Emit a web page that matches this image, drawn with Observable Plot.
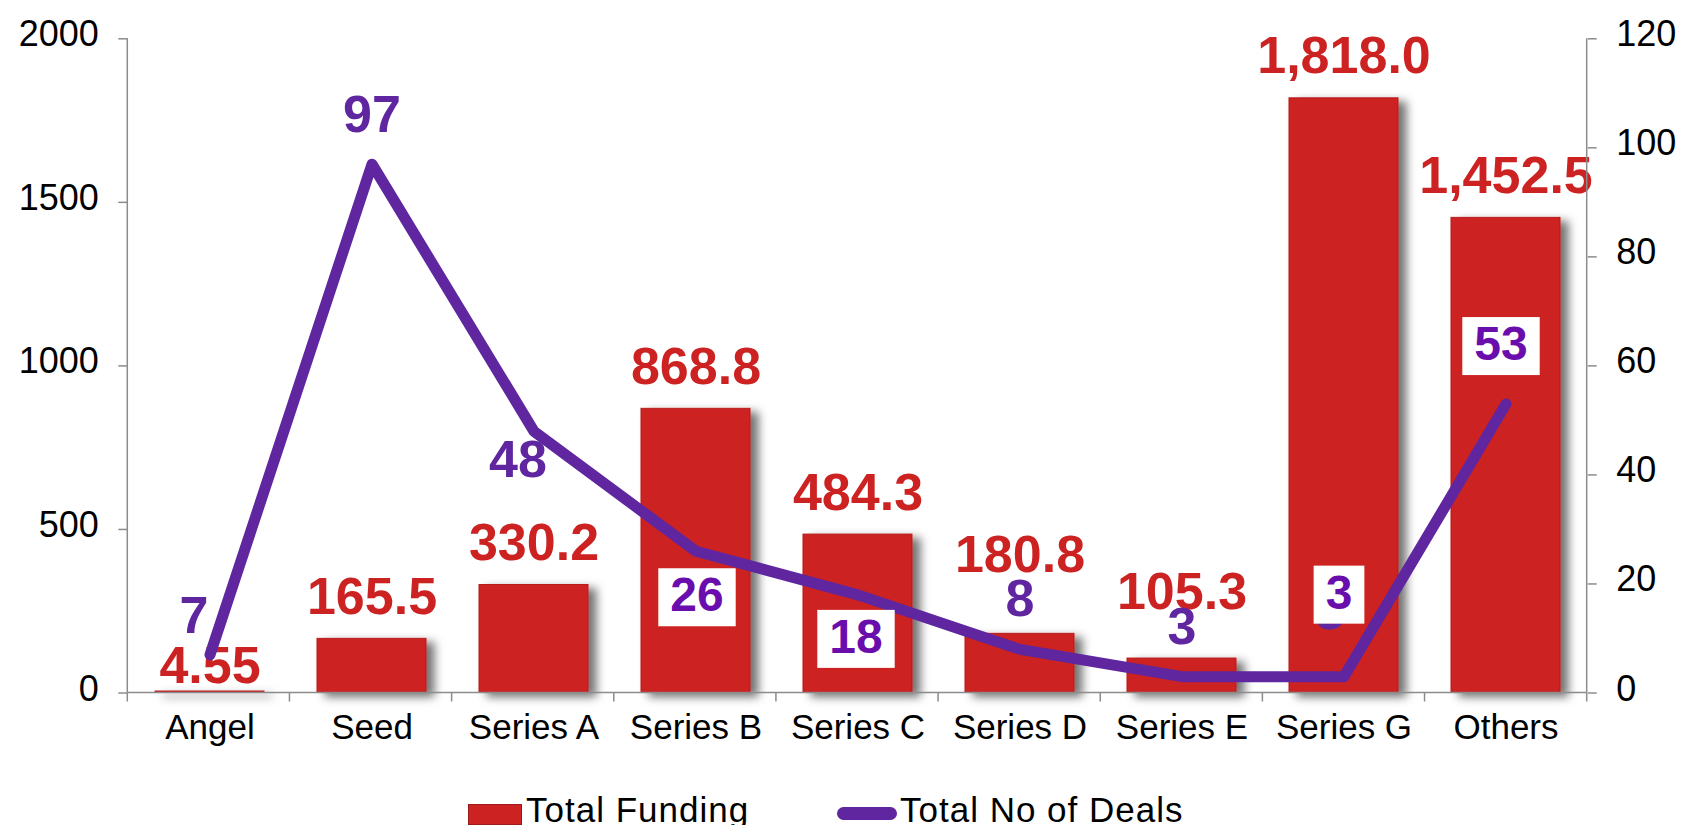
<!DOCTYPE html>
<html>
<head>
<meta charset="utf-8">
<script src="https://cdn.jsdelivr.net/npm/d3@7"></script>
<script src="https://cdn.jsdelivr.net/npm/@observablehq/plot@0.6"></script>
<style>
  html, body { margin: 0; padding: 0; background: #fff; }
  #chart { width: 1682px; }
  #legend { position: relative; width: 1682px; height: 33px; overflow: hidden;
    font-family: "Liberation Sans", Arial, sans-serif; font-size: 35px; line-height: 35px;
    letter-spacing: 1px; color: #000; }
  #legend .item { position: absolute; top: 0; white-space: nowrap; }
  #legend .patch { position: absolute; box-sizing: border-box; }
</style>
</head>
<body>
<div id="chart"></div>
<div id="legend">
  <div class="patch" id="lgBar"></div>
  <div class="item" id="lgBarText"></div>
  <div class="patch" id="lgLine"></div>
  <div class="item" id="lgLineText"></div>
</div>
<script>
// ---------------- data ----------------
const stages = ["Angel", "Seed", "Series A", "Series B", "Series C", "Series D", "Series E", "Series G", "Others"];
const totalFunding = [4.55, 165.5, 330.2, 868.8, 484.3, 180.8, 105.3, 1818.0, 1452.5];
const fundingLabels = ["4.55", "165.5", "330.2", "868.8", "484.3", "180.8", "105.3", "1,818.0", "1,452.5"];
const totalDeals = [7, 97, 48, 26, 18, 8, 3, 3, 53];
const leftTicks = [0, 500, 1000, 1500, 2000];
const rightTicks = [0, 20, 40, 60, 80, 100, 120];
const seriesNames = ["Total Funding", "Total No of Deals"];

// ---------------- styles / layout ----------------
const RED = "#cd2222";
const PURPLE = "#5f26a0";
const BOX_PURPLE = "#6a0dad";
const FONT = "'Liberation Sans', Arial, Helvetica, sans-serif";
const W = 1682, H = 792;
const fundDy = { "Angel": -9, "Series D": -62, "Series E": -50 }; // default -25
const dealLayout = {
  "Angel":    { dx: -16, dy: -22 },
  "Seed":     { dx: 0,   dy: -32 },
  "Series A": { dx: -16, dy: 46 },
  "Series B": { dx: 1,   dy: 60,  box: true },
  "Series C": { dx: -2,  dy: 58,  box: true },
  "Series D": { dx: 0,   dy: -33 },
  "Series E": { dx: 0,   dy: -33 },
  "Series G": { dx: -5,  dy: -68, box: true },
  "Others":   { dx: -5,  dy: -44, box: true }
};

const data = stages.map((s, i) => ({ stage: s, funding: totalFunding[i], label: fundingLabels[i], deals: totalDeals[i] }));
const k = 2000 / 120; // right axis (deals) mapped onto left axis (funding)
const toLeft = v => v * k;

const fundingText = data.map(d => Plot.text([d], {
  x: "stage", y: "funding", text: "label",
  dy: fundDy[d.stage] ?? -25, lineAnchor: "bottom",
  fill: RED, fontSize: 52, fontWeight: "bold"
}));

const ghost = data.filter(d => d.stage === "Series G").map(d => Plot.text([d], {
  x: "stage", y: dd => toLeft(dd.deals), text: dd => String(dd.deals),
  dx: -14, dy: -48, lineAnchor: "bottom", fill: PURPLE, fontSize: 52, fontWeight: "bold"
}));

const dealText = data.map(d => {
  const L = dealLayout[d.stage];
  return Plot.text([d], {
    x: "stage", y: dd => toLeft(dd.deals), text: dd => String(dd.deals),
    dx: L.dx, dy: L.dy, lineAnchor: "bottom",
    fill: L.box ? BOX_PURPLE : PURPLE, fontSize: L.box ? 48 : 52, fontWeight: "bold",
    ariaDescription: L.box ? "boxed-label" : "deal-label"
  });
});

const plot = Plot.plot({
  width: W, height: H,
  marginLeft: 127.3, marginRight: 95.3, marginTop: 38.3, marginBottom: H - 692.5,
  style: { fontFamily: FONT, background: "#fff", overflow: "visible" },
  x: { type: "band", domain: stages, paddingInner: 0.33, paddingOuter: 0.165, label: null },
  y: { domain: [0, 2000], label: null },
  marks: [
    Plot.barY(data, { x: "stage", y: "funding", fill: RED, stroke: "#b71d1d", strokeWidth: 1, ariaDescription: "funding-bars" }),
    ...fundingText,
    Plot.line(data, { x: "stage", y: d => toLeft(d.deals), stroke: PURPLE, strokeWidth: 11, strokeLinecap: "round", strokeLinejoin: "round" }),
    ...ghost,
    ...dealText,
    // left axis
    Plot.axisY({ anchor: "left", ticks: leftTicks, tickSize: 9, tickFormat: () => "", stroke: "#8c8c8c", strokeWidth: 1.5, label: null }),
    Plot.axisY({ anchor: "left", ticks: leftTicks, tickSize: 0, tickPadding: 29, dy: -4, tickFormat: d => String(d), fontSize: 36, fill: "#000", label: null }),
    // right axis
    Plot.axisY({ anchor: "right", ticks: rightTicks.map(toLeft), tickSize: 9, tickFormat: () => "", stroke: "#8c8c8c", strokeWidth: 1.5, label: null }),
    Plot.axisY({ anchor: "right", ticks: rightTicks.map(toLeft), tickSize: 0, tickPadding: 29, dy: -4, tickFormat: d => String(Math.round(d / k)), fontSize: 36, fill: "#000", label: null }),
    // x axis labels
    Plot.axisX({ anchor: "bottom", tickSize: 0, tickPadding: 21.6, fontSize: 35, fill: "#000", label: null })
  ]
});

document.getElementById("chart").appendChild(plot);

// ---- post-processing: shadow, axis lines, category boundary ticks, label boxes ----
const svg = d3.select(plot);
const defs = svg.insert("defs", ":first-child");
const f = defs.append("filter").attr("id", "barShadow")
  .attr("x", "-20%").attr("y", "-10%").attr("width", "160%").attr("height", "130%");
f.append("feDropShadow").attr("dx", 8).attr("dy", 4).attr("stdDeviation", 5)
  .attr("flood-color", "#000").attr("flood-opacity", 0.55);
svg.selectAll('g[aria-description="funding-bars"]').attr("filter", "url(#barShadow)");

const xs = plot.scale("x"), ys = plot.scale("y");
const [x0, x1] = xs.range;
const yBase = ys.apply(0), yTop = ys.apply(2000);
const ax = svg.append("g").attr("stroke", "#8c8c8c").attr("stroke-width", 1.5).attr("fill", "none");
ax.append("line").attr("x1", x0).attr("x2", x0).attr("y1", yTop).attr("y2", yBase);
ax.append("line").attr("x1", x1).attr("x2", x1).attr("y1", yTop).attr("y2", yBase);
ax.append("line").attr("x1", x0).attr("x2", x1).attr("y1", yBase).attr("y2", yBase);
const step = (x1 - x0) / stages.length;
d3.range(stages.length + 1).forEach(i => {
  const xx = x0 + i * step;
  ax.append("line").attr("x1", xx).attr("x2", xx).attr("y1", yBase).attr("y2", yBase + 9);
});

svg.selectAll('g[aria-description="boxed-label"] text').each(function () {
  const b = this.getBBox();
  const r = document.createElementNS("http://www.w3.org/2000/svg", "rect");
  r.setAttribute("x", b.x - 12);
  r.setAttribute("y", -43);
  r.setAttribute("width", b.width + 24);
  r.setAttribute("height", 58);
  r.setAttribute("fill", "#fff");
  r.setAttribute("stroke", "none");
  const t = this.getAttribute("transform");
  if (t) r.setAttribute("transform", t);
  this.parentNode.insertBefore(r, this);
});

// ---- legend ----
const lgBar = document.getElementById("lgBar");
Object.assign(lgBar.style, { left: "468px", top: "12px", width: "54px", height: "21px", background: RED, border: "1px solid #9e1a1a" });
const t1 = document.getElementById("lgBarText");
t1.textContent = seriesNames[0];
t1.style.left = "526px";
const lgLine = document.getElementById("lgLine");
Object.assign(lgLine.style, { left: "837px", top: "14.5px", width: "60px", height: "13px", background: PURPLE, borderRadius: "6.5px" });
const t2 = document.getElementById("lgLineText");
t2.textContent = seriesNames[1];
t2.style.left = "900px";
</script>
</body>
</html>
